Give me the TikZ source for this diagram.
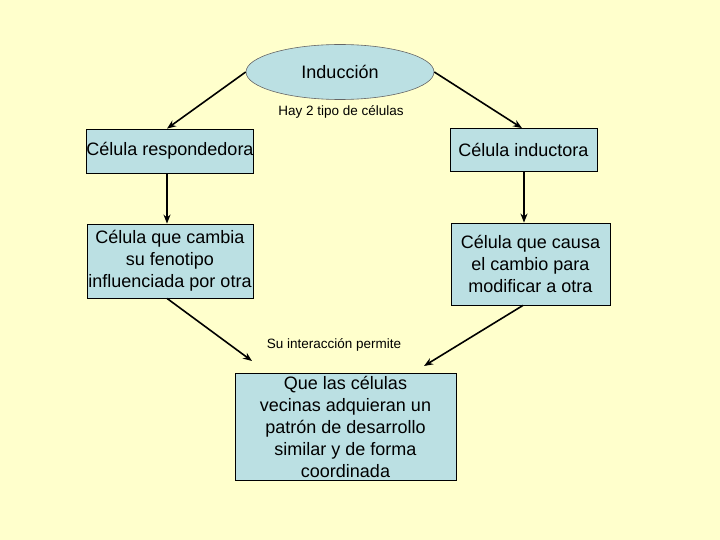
\documentclass[tikz,border=0pt]{standalone}
\usepackage{fontspec}
\setmainfont{Liberation Sans}
\usetikzlibrary{shapes.geometric,arrows.meta}
\definecolor{bg}{HTML}{FFFFCC}
\definecolor{boxfill}{HTML}{BBE0E3}
\tikzset{
  box/.style={draw=black, line width=0.8pt, fill=boxfill, inner sep=0pt, align=center, font=\fontsize{18}{22}\selectfont},
  conn/.style={line width=1.6pt, -{Stealth[length=9pt,width=7pt]}},
  note/.style={font=\fontsize{13.5}{15}\selectfont, inner sep=0pt}
}
\begin{document}
\begin{tikzpicture}[x=1pt,y=-1pt]
\fill[bg] (0,0) rectangle (720,540);
\useasboundingbox (0,0) rectangle (720,540);
\node[ellipse, draw=black!60, line width=0.6pt, fill=boxfill, minimum width=188pt, minimum height=55pt, inner sep=0pt, font=\fontsize{18}{20}\selectfont] (ind) at (340,72) {Inducción};
\node[note] (hay) at (341,112) {Hay 2 tipo de células};
\node[box, minimum width=166pt, minimum height=44pt] (lb1) at (170,151) {Célula respondedora};
\node[box, minimum width=147pt, minimum height=43pt] (rb1) at (523.5,150) {Célula inductora};
\node[box, minimum width=166pt, minimum height=74pt] (lb2) at (170,261) {Célula que cambia\\su fenotipo\\influenciada por otra};
\node[box, minimum width=159pt, minimum height=82pt] (rb2) at (530.5,264) {Célula que causa\\el cambio para\\modificar a otra};
\node[note] (su) at (334,345) {Su interacción permite};
\node[box, minimum width=221pt, minimum height=107pt] (bot) at (345.5,426.5) {Que las células\\vecinas adquieran un\\patrón de desarrollo\\similar y de forma\\coordinada};
\coordinate (bl) at (252,361);
\coordinate (br) at (424,366);
\draw[conn] (ind.west) -- (lb1.north -| 167,0);
\draw[conn] (ind.east) -- (rb1.north -| 522,0);
\draw[conn] (lb1.south -| 167,0) -- (lb2.north -| 167,0);
\draw[conn] (rb1.south -| 524,0) -- (rb2.north -| 524,0);
\draw[conn] (lb2.south -| 167,0) -- (bl);
\draw[conn] (rb2.south -| 523,0) -- (br);
\end{tikzpicture}
\end{document}
